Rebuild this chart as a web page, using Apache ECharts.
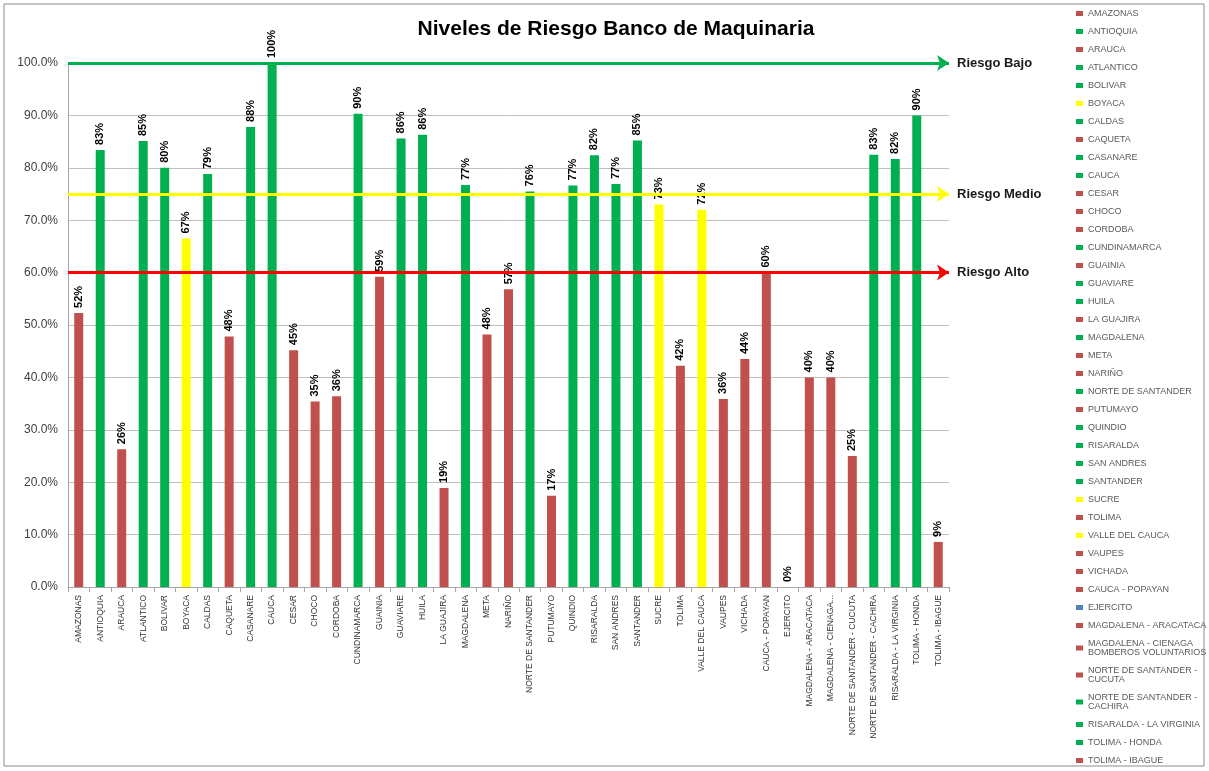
<!DOCTYPE html>
<html>
<head>
<meta charset="utf-8">
<script src="https://cdn.jsdelivr.net/npm/echarts@6/dist/echarts.min.js"></script>
<style>
  html, body { margin: 0; padding: 0; background: #fff; }
  #chart { width: 1209px; height: 771px; }
</style>
</head>
<body>
<div id="chart"></div>
<script>
// Niveles de riesgo por regional
var categories = [
  'AMAZONAS', 'ANTIOQUIA', 'ARAUCA', 'ATLANTICO', 'BOLIVAR', 'BOYACA', 'CALDAS',
  'CAQUETA', 'CASANARE', 'CAUCA', 'CESAR', 'CHOCO', 'CORDOBA', 'CUNDINAMARCA',
  'GUAINIA', 'GUAVIARE', 'HUILA', 'LA GUAJIRA', 'MAGDALENA', 'META', 'NARIÑO',
  'NORTE DE SANTANDER', 'PUTUMAYO', 'QUINDIO', 'RISARALDA', 'SAN ANDRES',
  'SANTANDER', 'SUCRE', 'TOLIMA', 'VALLE DEL CAUCA', 'VAUPES', 'VICHADA',
  'CAUCA - POPAYAN', 'EJERCITO', 'MAGDALENA - ARACATACA',
  'MAGDALENA - CIENAGA BOMBEROS VOLUNTARIOS', 'NORTE DE SANTANDER - CUCUTA',
  'NORTE DE SANTANDER - CACHIRA', 'RISARALDA - LA VIRGINIA', 'TOLIMA - HONDA',
  'TOLIMA - IBAGUE'
];
var values = [
  0.523, 0.834, 0.263, 0.851, 0.800, 0.665, 0.788,
  0.478, 0.878, 1.000, 0.452, 0.354, 0.364, 0.903,
  0.592, 0.856, 0.863, 0.189, 0.767, 0.482, 0.568,
  0.755, 0.174, 0.766, 0.824, 0.769,
  0.852, 0.730, 0.422, 0.720, 0.359, 0.435,
  0.600, 0.000, 0.400,
  0.400, 0.250,
  0.825, 0.817, 0.900,
  0.086
];
var riskLevels = [1.0, 0.75, 0.6];
var riskNames = ['Riesgo Bajo', 'Riesgo Medio', 'Riesgo Alto'];
var yMin = 0, yMax = 1, yStep = 0.1;

var RED = '#C0504D', GREEN = '#00B050', YELLOW = '#FFFF00', BLUE = '#4F81BD';
var riskColors = [GREEN, YELLOW, '#FF0000'];

function colorFor(v) {
  if (v === 0) return BLUE;
  if (v <= 0.6) return RED;
  if (v < 0.75) return YELLOW;
  return GREEN;
}

function axisName(n) {
  return n.length > 30 ? 'MAGDALENA - CIENAGA...' : n;
}

var series = categories.map(function (name, i) {
  return {
    name: name,
    type: 'bar',
    stack: 'total',
    barWidth: 9,
    data: categories.map(function (c, j) { return j === i ? values[i] : '-'; }),
    itemStyle: { color: colorFor(values[i]) },
    label: {
      show: true,
      position: 'top',
      rotate: 90,
      align: 'left',
      verticalAlign: 'middle',
      distance: 5,
      color: '#000',
      fontWeight: 'bold',
      fontSize: 11,
      fontFamily: 'Liberation Sans, sans-serif',
      formatter: function (p) { return Math.round(p.value * 100) + '%'; }
    }
  };
});

// lineas de nivel de riesgo
series[0].markLine = {
  silent: true,
  symbol: ['none', 'arrow'],
  symbolSize: [12, 12],
  data: riskLevels.map(function (lv, k) {
    return {
      yAxis: lv,
      lineStyle: { color: riskColors[k], width: 3, type: 'solid' },
      label: {
        show: true,
        position: 'end',
        formatter: riskNames[k],
        color: '#1a1a1a',
        fontWeight: 'bold',
        fontSize: 13,
        fontFamily: 'Liberation Sans, sans-serif',
        distance: 8
      }
    };
  })
};

var chart = echarts.init(document.getElementById('chart'));
chart.setOption({
  animation: false,
  backgroundColor: '#fff',
  title: {
    text: 'Niveles de Riesgo Banco de Maquinaria',
    left: 611,
    textAlign: 'center',
    top: 14,
    textStyle: { color: '#000', fontWeight: 'bold', fontSize: 21, fontFamily: 'Liberation Sans, sans-serif' }
  },
  legend: {
    orient: 'vertical',
    left: 1076,
    top: 9,
    height: 761,
    padding: 0,
    itemWidth: 7,
    itemHeight: 5,
    itemGap: 9,
    icon: 'rect',
    selectedMode: false,
    textStyle: { color: '#595959', fontSize: 9, lineHeight: 9, fontFamily: 'Liberation Sans, sans-serif' },
    formatter: function (n) {
      return n.replace(' BOMBEROS', '\nBOMBEROS').replace('SANTANDER - ', 'SANTANDER -\n');
    },
    data: categories
  },
  grid: { left: 68, right: 260, top: 63, bottom: 184 },
  xAxis: {
    type: 'category',
    data: categories,
    axisLine: { lineStyle: { color: '#a6a6a6' } },
    axisTick: { show: true, lineStyle: { color: '#a6a6a6' } },
    axisLabel: {
      interval: 0,
      rotate: 90,
      color: '#333',
      fontSize: 8.5,
      fontFamily: 'Liberation Sans, sans-serif',
      formatter: axisName
    }
  },
  yAxis: {
    type: 'value',
    min: yMin,
    max: yMax,
    interval: yStep,
    axisLine: { show: true, lineStyle: { color: '#a6a6a6' } },
    axisTick: { show: false },
    axisLabel: {
      color: '#404040',
      fontSize: 12,
      fontFamily: 'Liberation Sans, sans-serif',
      margin: 10,
      formatter: function (v) { return (v * 100).toFixed(1) + '%'; }
    },
    splitLine: { lineStyle: { color: '#bfbfbf' } }
  },
  graphic: [{
    type: 'rect',
    shape: { x: 4, y: 4, width: 1200, height: 762 },
    style: { fill: 'none', stroke: '#8c8c8c', lineWidth: 1 },
    silent: true
  }],
  series: series
});
</script>
</body>
</html>
